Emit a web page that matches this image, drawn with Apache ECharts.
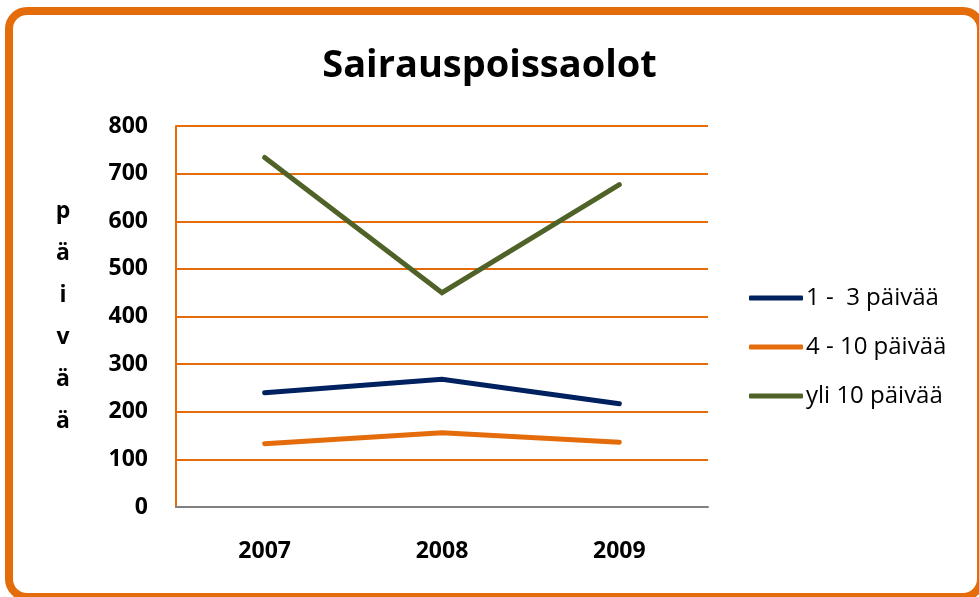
<!DOCTYPE html>
<html>
<head>
<meta charset="utf-8">
<script src="https://cdn.jsdelivr.net/npm/echarts@6/dist/echarts.min.js"></script>
<style>
  html, body { margin: 0; padding: 0; background: #fff; }
  #chart { width: 979px; height: 597px; }
</style>
</head>
<body>
<div id="chart"></div>
<script>
// data
const years = ['2007', '2008', '2009'];
const seriesNames = ['1 -  3 päivää', '4 - 10 päivää', 'yli 10 päivää'];
const short = [240, 268, 217];
const medium = [133, 156, 136];
const long = [734, 450, 677];
const yTicks = { min: 0, max: 800, interval: 100 };

const orange = '#E46C0A';
const colors = ['#00215F', orange, '#4F6228'];
const font = '"Open Sans", "Noto Sans", sans-serif';

const chart = echarts.init(document.getElementById('chart'));

const option = {
  animation: false,
  textStyle: { fontFamily: font },
  graphic: [
    {
      type: 'rect',
      shape: { x: 9, y: 11, width: 972, height: 586, r: 18 },
      style: { fill: 'none', stroke: orange, lineWidth: 8 },
      silent: true
    }
  ],
  title: {
    text: 'Sairauspoissaolot',
    left: 'center',
    top: 42,
    textStyle: { fontFamily: font, fontSize: 38, fontWeight: 'bold', color: '#000' }
  },
  legend: {
    orient: 'vertical',
    left: 744,
    top: 281,
    itemWidth: 54,
    itemHeight: 5,
    itemGap: 25,
    icon: 'roundRect',
    textStyle: { fontFamily: font, fontSize: 24, color: '#000', padding: [0, 0, 0, -2] },
    data: seriesNames
  },
  grid: { left: 176, right: 271, top: 126, bottom: 90 },
  xAxis: {
    type: 'category',
    data: years,
    boundaryGap: true,
    axisLine: { lineStyle: { color: '#808080', width: 2 } },
    axisTick: { show: false },
    axisLabel: { fontFamily: font, fontSize: 23, fontWeight: 'bold', color: '#000', margin: 33 }
  },
  yAxis: {
    type: 'value',
    min: yTicks.min,
    max: yTicks.max,
    interval: yTicks.interval,
    name: 'p\nä\ni\nv\nä\nä',
    nameLocation: 'middle',
    nameRotate: 0,
    nameGap: 113,
    nameTextStyle: {
      fontFamily: font, fontSize: 23, fontWeight: 'bold', color: '#000',
      lineHeight: 42, align: 'center', verticalAlign: 'middle'
    },
    axisLine: { show: true, lineStyle: { color: orange, width: 2 } },
    axisTick: { show: false },
    splitLine: { lineStyle: { color: orange, width: 2 } },
    axisLabel: { fontFamily: font, fontSize: 23, fontWeight: 'bold', color: '#000', margin: 28 }
  },
  series: [
    { name: seriesNames[0], type: 'line', data: short },
    { name: seriesNames[1], type: 'line', data: medium },
    { name: seriesNames[2], type: 'line', data: long }
  ].map((s, i) => Object.assign(s, {
    showSymbol: false,
    symbol: 'none',
    color: colors[i],
    lineStyle: { color: colors[i], width: 5, cap: 'round', join: 'miter' },
    itemStyle: { color: colors[i] }
  }))
};

chart.setOption(option);
</script>
</body>
</html>
